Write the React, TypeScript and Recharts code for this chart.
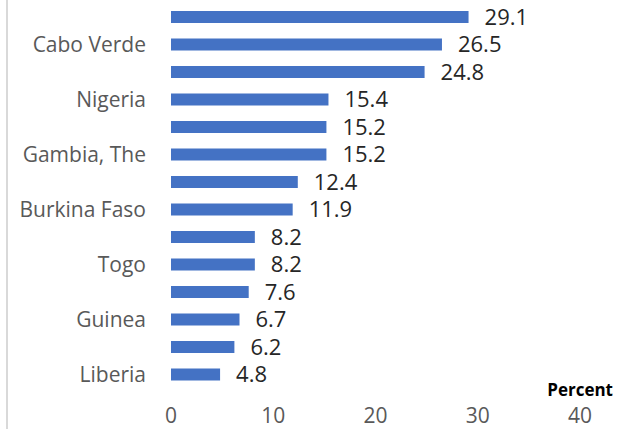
import React from 'react';
import { BarChart, Bar, XAxis, YAxis, LabelList, Label } from 'recharts';

const categoryIds = ['r1', 'r2', 'r3', 'r4', 'r5', 'r6', 'r7', 'r8', 'r9', 'r10', 'r11', 'r12', 'r13', 'r14'];
const tickLabels = ['', 'Cabo Verde', '', 'Nigeria', '', 'Gambia, The', '', 'Burkina Faso', '', 'Togo', '', 'Guinea', '', 'Liberia'];
const values = [29.1, 26.5, 24.8, 15.4, 15.2, 15.2, 12.4, 11.9, 8.2, 8.2, 7.6, 6.7, 6.2, 4.8];
const xTicks = [0, 10, 20, 30, 40];

const data = categoryIds.map((id, i) => ({ id, value: values[i] }));

const FONT = 'Open Sans, Noto Sans, sans-serif';

export default function App() {
  return (
    <div style={{ position: 'absolute', left: 0, top: 0, width: 618, height: 429, background: '#fff' }}>
      <div style={{ position: 'absolute', left: 6, top: 0, width: 2, height: 429, background: '#d9d9d9' }} />
      <BarChart
        width={618}
        height={429}
        data={data}
        layout="vertical"
        margin={{ top: 3, right: 38, bottom: 0, left: 0 }}
        barCategoryGap={0}
      >
        <XAxis
          type="number"
          domain={[0, 40]}
          ticks={xTicks}
          axisLine={false}
          tickLine={false}
          tickMargin={14}
          height={41}
          tick={{ fill: '#595959', fontSize: 21, fontFamily: FONT }}
        >
          <Label
            content={(props: any) => {
              const vb = props.viewBox || {};
              return (
                <text
                  x={vb.x + vb.width + 33}
                  y={vb.y + 8}
                  textAnchor="end"
                  fontFamily={FONT}
                  fontWeight="bold"
                  fontSize={17}
                  fill="#000"
                >
                  Percent
                </text>
              );
            }}
          />
        </XAxis>
        <YAxis
          type="category"
          dataKey="id"
          width={171}
          axisLine={false}
          tickLine={false}
          tickMargin={19}
          interval={0}
          tickFormatter={(_v: any, i: number) => tickLabels[i]}
          tick={{ fill: '#595959', fontSize: 21, fontFamily: FONT }}
        />
        <Bar dataKey="value" fill="#4472C4" barSize={12} isAnimationActive={false}>
          <LabelList
            dataKey="value"
            position="right"
            offset={16}
            formatter={(v: any) => Number(v).toFixed(1)}
            style={{ fill: '#262626', fontSize: 22, fontFamily: FONT }}
          />
        </Bar>
      </BarChart>
    </div>
  );
}
